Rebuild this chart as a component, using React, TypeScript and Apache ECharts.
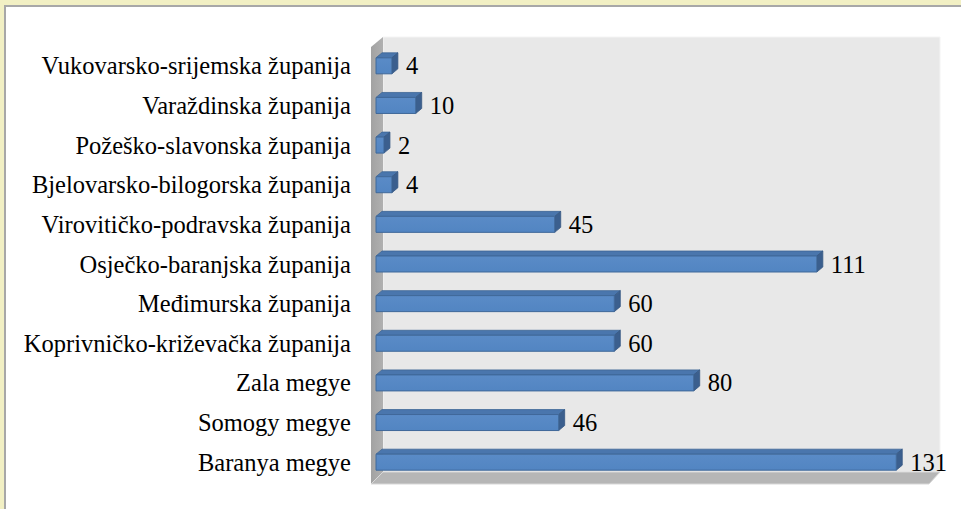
import React, { useEffect, useRef } from "react";
import * as echarts from "echarts";

const categories = [
  "Baranya megye",
  "Somogy megye",
  "Zala megye",
  "Koprivničko-križevačka županija",
  "Međimurska županija",
  "Osječko-baranjska županija",
  "Virovitičko-podravska županija",
  "Bjelovarsko-bilogorska županija",
  "Požeško-slavonska županija",
  "Varaždinska županija",
  "Vukovarsko-srijemska županija",
];
const values = [131, 46, 80, 60, 60, 111, 45, 4, 2, 10, 4];

export default function App() {
  const ref = useRef<HTMLDivElement>(null);
  useEffect(() => {
    if (!ref.current) return;
    const chart = echarts.init(ref.current, null, { renderer: "svg" });
    const FONT = "Liberation Serif";
    const option: any = {
      animation: false,
      backgroundColor: "#ffffff",
      grid: { left: 376, top: 46, width: 556, height: 436, containLabel: false },
      xAxis: {
        type: "value",
        min: 0,
        max: 140,
        show: false,
      },
      yAxis: {
        type: "category",
        data: categories,
        axisLine: { show: false },
        axisTick: { show: false },
        splitLine: { show: false },
        axisLabel: {
          margin: 25,
          color: "#000",
          fontFamily: FONT,
          fontSize: 24.5,
          padding: [4, 0, 0, 0],
        },
      },
      graphic: [
        { type: "rect", shape: { x: 0, y: 0, width: 961, height: 5 }, style: { fill: "#f2f0c4" }, z: -10 },
        { type: "rect", shape: { x: 0, y: 0, width: 4, height: 509 }, style: { fill: "#f2f0c4" }, z: -10 },
        { type: "rect", shape: { x: 4, y: 5, width: 957, height: 2 }, style: { fill: "#a8a8a8" }, z: -10 },
        { type: "rect", shape: { x: 4, y: 5, width: 2, height: 504 }, style: { fill: "#a8a8a8" }, z: -10 },
        { type: "rect", shape: { x: 383, y: 37, width: 557, height: 435 }, style: { fill: "#e8e8e8", stroke: "#f4f4f4", lineWidth: 1 }, z: -9 },
        {
          type: "polygon",
          shape: { points: [[371, 47], [383, 37], [383, 472], [371, 484]] },
          style: {
            fill: new echarts.graphic.LinearGradient(0, 0, 1, 0, [
              { offset: 0, color: "#a2a2a2" },
              { offset: 1, color: "#b0b0b0" },
            ]),
          },
          z: -9,
        },
        {
          type: "polygon",
          shape: { points: [[383, 472], [940, 472], [929, 484], [371, 484]] },
          style: { fill: "#b6b6b6", stroke: "#d8d8d8", lineWidth: 1 },
          z: -9,
        },
      ],
      series: [
        {
          type: "custom",
          data: values.map((v, i) => [v, i]),
          encode: { x: 0, y: 1 },
          renderItem: (params: any, api: any) => {
            const v = api.value(0);
            const idx = api.value(1);
            const p0 = api.coord([0, idx]);
            const p1 = api.coord([v, idx]);
            const x0 = p0[0];
            const x1 = p1[0];
            const cy = p0[1];
            const h = 16;
            const dx = 6;
            const dy = 5;
            const top = cy - h / 2;
            const bot = cy + h / 2;
            return {
              type: "group",
              children: [
                {
                  type: "polygon",
                  shape: { points: [[x0, top], [x1, top], [x1 + dx, top - dy], [x0 + dx, top - dy]] },
                  style: { fill: "#4a76ad", stroke: "#3e6696", lineWidth: 0.8 },
                },
                {
                  type: "polygon",
                  shape: { points: [[x1, top], [x1 + dx, top - dy], [x1 + dx, bot - dy], [x1, bot]] },
                  style: { fill: "#3b5f8e", stroke: "#365883", lineWidth: 0.8 },
                },
                {
                  type: "rect",
                  shape: { x: x0, y: top, width: x1 - x0, height: h },
                  style: {
                    fill: new echarts.graphic.LinearGradient(0, 0, 0, 1, [
                      { offset: 0, color: "#5a8bc7" },
                      { offset: 1, color: "#5285c2" },
                    ]),
                    stroke: "#3f6899",
                    lineWidth: 1,
                  },
                },
              ],
            };
          },
        },
        {
          type: "bar",
          data: values,
          barWidth: 16,
          itemStyle: { color: "rgba(0,0,0,0)" },
          silent: true,
          label: {
            show: true,
            position: "right",
            distance: 14,
            offset: [0, 0],
            color: "#000",
            fontFamily: FONT,
            fontSize: 24.5,
          },
        },
      ],
    };
    chart.setOption(option);
    return () => chart.dispose();
  }, []);
  return (
    <div
      ref={ref}
      style={{ position: "fixed", left: 0, top: 0, width: 961, height: 509 }}
    />
  );
}
